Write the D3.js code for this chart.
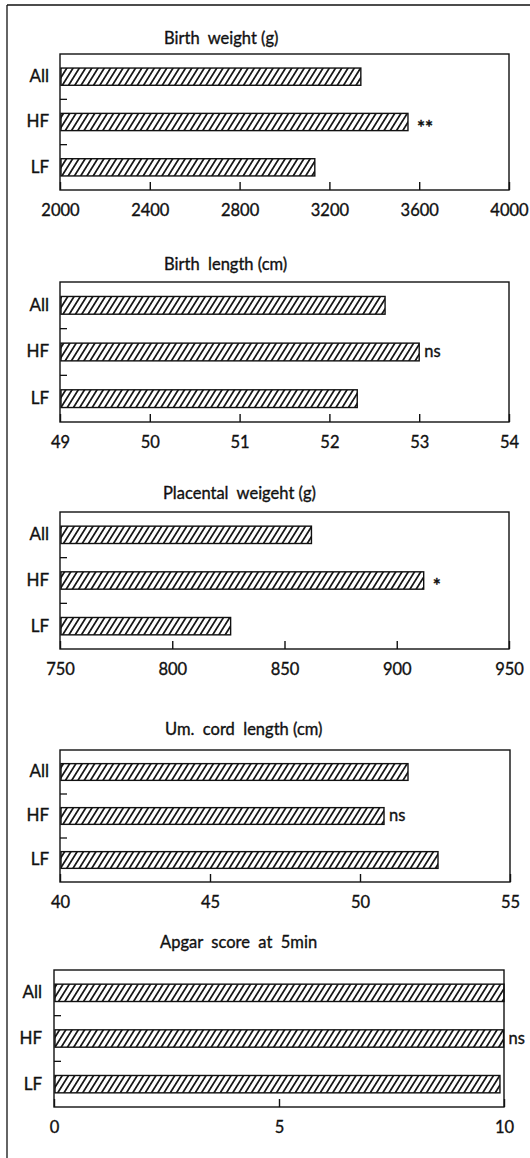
<!DOCTYPE html>
<html><head><meta charset="utf-8">
<script src="https://cdn.jsdelivr.net/npm/d3@7"></script>
<style>
html,body{margin:0;padding:0;background:#fff;}
svg{display:block;}
text{font-family:Lato,"Open Sans",sans-serif;fill:#111;white-space:pre;stroke:#111;stroke-width:0.35px;}
</style>
</head><body>
<svg id="chart" width="530" height="1158"></svg>
<script>
// ---- data ----
const categories = ["All", "HF", "LF"];
const panelTitles = ["Birth  weight (g)", "Birth  length (cm)", "Placental  weigeht (g)", "Um.  cord  length (cm)", "Apgar  score  at  5min"];
const birthWeight = [3340, 3550, 3135];
const birthLength = [52.62, 53.0, 52.31];
const placentalWeight = [862, 912, 826];
const cordLength = [51.6, 50.8, 52.6];
const apgarScore = [10.0, 9.99, 9.91];
const significance = ["**", "ns", "*", "ns", "ns"];
const birthWeightTicks = [2000, 2400, 2800, 3200, 3600, 4000];
const birthLengthTicks = [49, 50, 51, 52, 53, 54];
const placentalTicks = [750, 800, 850, 900, 950];
const cordTicks = [40, 45, 50, 55];
const apgarTicks = [0, 5, 10];

const seriesList = [birthWeight, birthLength, placentalWeight, cordLength, apgarScore];
const tickList = [birthWeightTicks, birthLengthTicks, placentalTicks, cordTicks, apgarTicks];

// ---- layout (positions only) ----
const layout = [
  {x0: 60, x1: 509, top: 54,  bottom: 190,  titleX: 164, titleY: 44,  labPad: 11},
  {x0: 60, x1: 509, top: 282, bottom: 422,  titleX: 164, titleY: 270, labPad: 11},
  {x0: 60, x1: 509, top: 512, bottom: 649,  titleX: 163, titleY: 499, labPad: 11},
  {x0: 60, x1: 510, top: 750, bottom: 882,  titleX: 165, titleY: 735, labPad: 11},
  {x0: 54, x1: 504, top: 970, bottom: 1107, titleX: 160, titleY: 948, labPad: 12}
];

const svg = d3.select("#chart");
const ink = "#111";

const defs = svg.append("defs");
defs.append("pattern")
  .attr("id", "hatch")
  .attr("patternUnits", "userSpaceOnUse")
  .attr("width", 5.3).attr("height", 10)
  .attr("patternTransform", "rotate(32)")
  .append("line")
  .attr("x1", 2.65).attr("y1", -1).attr("x2", 2.65).attr("y2", 11)
  .attr("stroke", ink).attr("stroke-width", 1.7);

// outer frame (top and left edges of the figure)
svg.append("line").attr("x1", 7).attr("y1", 5).attr("x2", 530).attr("y2", 5)
  .attr("stroke", ink).attr("stroke-width", 1.3);
svg.append("line").attr("x1", 7).attr("y1", 5).attr("x2", 7).attr("y2", 1158)
  .attr("stroke", ink).attr("stroke-width", 1.3);

seriesList.forEach((values, p) => {
  const L = layout[p];
  const ticks = tickList[p];
  const x = d3.scaleLinear().domain([ticks[0], ticks[ticks.length - 1]]).range([L.x0, L.x1]);
  const y = d3.scaleBand().domain(categories).range([L.top, L.bottom])
    .paddingInner(0.62).paddingOuter(0.31);
  const g = svg.append("g");

  // title
  g.append("text")
    .attr("x", L.titleX).attr("y", L.titleY)
    .attr("font-size", 16.5)
    .text(panelTitles[p]);

  // box
  g.append("rect")
    .attr("x", L.x0).attr("y", L.top)
    .attr("width", L.x1 - L.x0).attr("height", L.bottom - L.top)
    .attr("fill", "none").attr("stroke", ink).attr("stroke-width", 1.4);

  // x axis: inward ticks + labels
  const xa = g.append("g").attr("transform", `translate(0,${L.bottom})`)
    .call(d3.axisBottom(x).tickValues(ticks).tickFormat(d3.format("d"))
      .tickSizeInner(-8).tickSizeOuter(0).tickPadding(14.2));
  xa.select(".domain").remove();
  xa.selectAll(".tick line").attr("stroke", ink).attr("stroke-width", 1.4);
  xa.selectAll(".tick text").attr("font-size", 16.5).attr("font-family", "Lato, 'Open Sans', sans-serif").attr("fill", ink);

  // y axis labels
  const ya = g.append("g").attr("transform", `translate(${L.x0},0)`)
    .call(d3.axisLeft(y).tickSize(0).tickPadding(L.labPad));
  ya.select(".domain").remove();
  ya.selectAll(".tick text").attr("font-size", 17).attr("font-family", "Lato, 'Open Sans', sans-serif").attr("fill", ink);

  // inward ticks at band boundaries
  g.selectAll(".sep").data(categories.slice(1)).join("line")
    .attr("x1", L.x0).attr("x2", L.x0 + 7)
    .attr("y1", d => y(d) - (y.step() - y.bandwidth()) / 2)
    .attr("y2", d => y(d) - (y.step() - y.bandwidth()) / 2)
    .attr("stroke", ink).attr("stroke-width", 1.3);

  // bars
  g.selectAll(".bar").data(values).join("rect")
    .attr("x", x(x.domain()[0]) + 1)
    .attr("y", (d, i) => y(categories[i]))
    .attr("width", d => x(d) - x(x.domain()[0]) - 1)
    .attr("height", y.bandwidth())
    .attr("fill", "url(#hatch)")
    .attr("stroke", ink).attr("stroke-width", 1.4);

  // significance mark next to HF bar
  const sig = significance[p];
  const isStar = sig.indexOf("*") >= 0;
  g.append("text")
    .attr("x", x(values[1]) + (isStar ? 9 : 5))
    .attr("y", y("HF") + y.bandwidth() / 2)
    .attr("dy", isStar ? "0.62em" : "0.32em")
    .attr("font-size", isStar ? 19 : 16.5)
    .attr("font-weight", isStar ? 700 : 400)
    .text(sig);
});
</script>
</body></html>
